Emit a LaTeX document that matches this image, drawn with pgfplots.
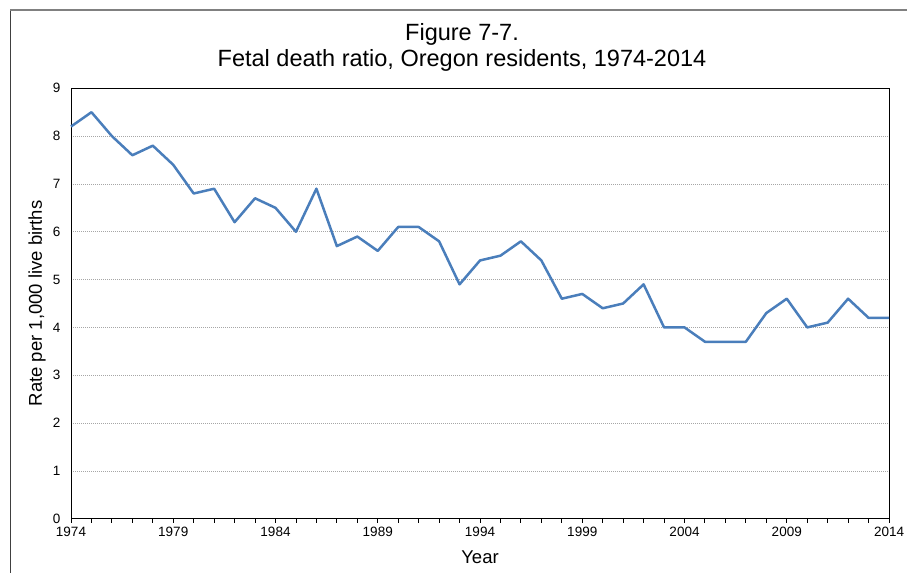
\documentclass[border=0pt]{standalone}
\usepackage{pgfplots}
\pgfplotsset{compat=1.18}
\usepackage{fontspec}
\setmainfont{Liberation Sans}
\definecolor{excelblue}{HTML}{4A7EBB}
\pgfplotstableread{
year rate
1974 8.2
1975 8.5
1976 8.0
1977 7.6
1978 7.8
1979 7.4
1980 6.8
1981 6.9
1982 6.2
1983 6.7
1984 6.5
1985 6.0
1986 6.9
1987 5.7
1988 5.9
1989 5.6
1990 6.1
1991 6.1
1992 5.8
1993 4.9
1994 5.4
1995 5.5
1996 5.8
1997 5.4
1998 4.6
1999 4.7
2000 4.4
2001 4.5
2002 4.9
2003 4.0
2004 4.0
2005 3.7
2006 3.7
2007 3.7
2008 4.3
2009 4.6
2010 4.0
2011 4.1
2012 4.6
2013 4.2
2014 4.2
}\fetal
\begin{document}
\begin{tikzpicture}[x=1bp,y=1bp]
\path[use as bounding box] (0,0) rectangle (907,573);
\draw[black!75, line width=1bp] (10.5,0) -- (10.5,563);
\draw[gray, line width=1.2bp] (10,563) -- (907,563);
\node[anchor=base, font=\fontsize{23.5bp}{26bp}\selectfont] at (462,532) {Figure 7-7.};
\node[anchor=base, font=\fontsize{23.5bp}{26bp}\selectfont] at (462,506) {Fetal death ratio, Oregon residents, 1974-2014};
\begin{axis}[
  at={(71bp,54.3bp)}, anchor=south west,
  scale only axis, width=818bp, height=430.4bp,
  xmin=1974, xmax=2014, ymin=0, ymax=9,
  xtick={1974,1979,...,2014},
  minor xtick={1974,...,2014},
  xtick pos=lower,
  xtick align=outside,
  major tick length=4bp, minor tick length=4bp,
  every tick/.style={black, line width=0.8bp},
  ytick={0,...,9},
  ytick style={draw=none},
  ymajorgrids,
  grid style={gray!70, dash pattern=on 1bp off 1bp, line width=0.7bp},
  axis line style={line width=1bp, black},
  /pgf/number format/assume math mode=true,
  /pgf/number format/1000 sep={},
  tick label style={font=\fontsize{13.5bp}{16bp}\selectfont},
  yticklabel style={xshift=-7bp},
  xticklabel style={yshift=-1bp},
  xlabel={Year},
  ylabel={Rate per 1,000 live births},
  label style={font=\fontsize{18.5bp}{21bp}\selectfont},
  xlabel style={at={(axis description cs:0.5,-0.089)}, anchor=center},
  ylabel style={at={(axis description cs:-0.0416,0.5)}, anchor=center},
  clip=false,
]
\addplot[excelblue, line width=2.5bp, line join=round] table[x=year,y=rate] {\fetal};
\end{axis}
\end{tikzpicture}
\end{document}
